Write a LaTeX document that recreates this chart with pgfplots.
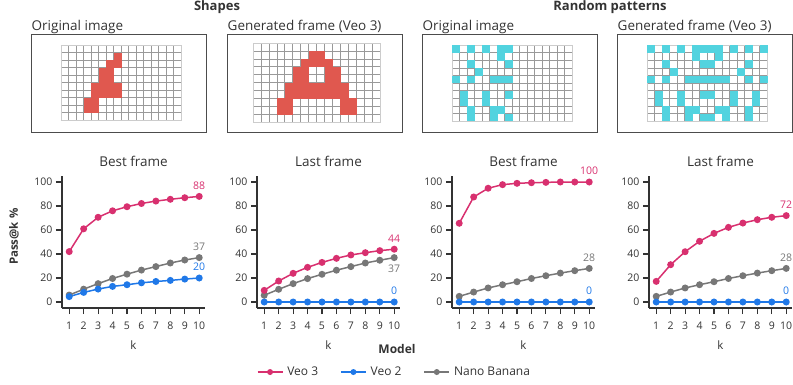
\documentclass[border=0pt]{standalone}
\usepackage{fontspec}
\setmainfont{Open Sans}
\usepackage{pgfplots}
\usepackage{pgfplotstable}
\pgfplotsset{compat=1.18}

\definecolor{veothree}{HTML}{D8306F}
\definecolor{veotwo}{HTML}{1F78E8}
\definecolor{nano}{HTML}{777777}
\definecolor{shapered}{HTML}{E0584F}
\definecolor{patcyan}{HTML}{52D3DF}
\definecolor{ink}{HTML}{333333}

\newcommand{\tickfont}{\fontsize{10.5pt}{12pt}\selectfont}
\newcommand{\labfont}{\fontsize{11.5pt}{13pt}\selectfont}
\newcommand{\legfont}{\fontsize{12pt}{14pt}\selectfont}
\newcommand{\titfont}{\fontsize{13.5pt}{15pt}\selectfont}

% pass@k per panel
\pgfplotstableread{
k  veo3  veo2  nano
1  42    4.5   5.8
2  61    8     10.7
3  70.6  10.8  15.3
4  76    13    19.6
5  79.4  14.4  23.2
6  82.1  16    26.6
7  84.1  17.1  29.5
8  85.6  18    32.5
9  86.9  19.1  35
10 88    20    37
}\shapesbest
\pgfplotstableread{
k  veo3  veo2  nano
1  9.7   0     5.6
2  17.5  0     10.6
3  23.9  0     15.3
4  28.9  0     19.5
5  33    0     23.1
6  36.4  0     26.5
7  39.2  0     29.5
8  41.1  0     32.5
9  42.8  0     34.8
10 44    0     37
}\shapeslast
\pgfplotstableread{
k  veo3  veo2  nano
1  65.6  0     4.7
2  87.5  0     8.3
3  94.8  0     11.7
4  97.8  0     14.4
5  98.9  0     16.9
6  99.4  0     19.6
7  99.7  0     21.9
8  100   0     24.1
9  100   0     26.1
10 100   0     28
}\randbest
\pgfplotstableread{
k  veo3  veo2  nano
1  17.2  0     4.7
2  31.1  0     8.3
3  41.9  0     11.7
4  50.6  0     14.4
5  57.2  0     16.9
6  62.2  0     19.6
7  65.8  0     21.9
8  68.6  0     24.1
9  70.6  0     26.1
10 72    0     28
}\randlast

\pgfplotsset{
  panel/.style={
    scale only axis, width=143pt, height=132pt, anchor=south west,
    xmin=0.5, xmax=10.4, ymin=-5, ymax=105,
    axis lines=left, axis line style={-, line width=1.4pt, draw=ink},
    xtick={1,...,10}, ytick={0,20,...,100},
    tick align=outside, major tick length=6pt,
    tick style={line width=1.2pt, draw=ink},
    tick label style={font=\tickfont, text=ink},
    xticklabel style={yshift=-4pt},
    /pgf/number format/assume math mode=true,
    xlabel={k}, xlabel style={font=\labfont, text=ink, yshift=-5pt},
    title style={font=\titfont, text=ink, at={(0.5,1)}, anchor=base, yshift=4pt},
    clip=false},
  frame/.style={
    scale only axis, anchor=center, width=175pt, height=98pt,
    xmin=0, xmax=1, ymin=0, ymax=1, ticks=none,
    axis line style={line width=1pt, draw=black!70},
    title style={font=\titfont, text=ink, at={(0,1)}, anchor=base west,
      inner sep=0pt, yshift=-2pt}},
  gridimg/.style={
    scale only axis, anchor=center,
    xmin=0, xmax=16, ymin=0, ymax=10, y dir=reverse,
    xtick={0,...,16}, ytick={0,...,10}, xticklabels={}, yticklabels={},
    major tick length=0pt, grid=major,
    grid style={black!40, line width=0.6pt},
    axis line style={black!20, line width=0.5pt}},
  cell/.style 2 args={only marks, color=#1, mark=square*, mark size=#2,
    mark options={fill=#1, draw=none}},
  lv3/.style={veothree, line width=1.5pt, mark=*, mark size=2.7pt, forget plot},
  lv2/.style={veotwo, line width=1.5pt, mark=*, mark size=2.7pt, forget plot},
  lnb/.style={nano, line width=1.5pt, mark=*, mark size=2.7pt, forget plot},
  endlab/.style n args={3}{draw=none, mark=none, forget plot, nodes near coords,
    point meta=explicit symbolic,
    every node near coord/.append style={font=\tickfont, text=#1,
      anchor=#2, inner sep=2pt, yshift=#3}},
}

\begin{document}
\begin{tikzpicture}
\path[use as bounding box] (0pt,0pt) rectangle (793pt,-384pt);

% headers
\node[font=\fontsize{13pt}{15pt}\selectfont\bfseries, text=ink] at (217pt,-7.5pt) {Shapes};
\node[font=\fontsize{13pt}{15pt}\selectfont\bfseries, text=ink] at (610pt,-7.5pt) {Random patterns};

% image frames
\begin{axis}[frame, at={(119pt,-83pt)}, title={Original image}]\end{axis}
\begin{axis}[frame, at={(315pt,-83pt)}, title={Generated frame (Veo 3)}]\end{axis}
\begin{axis}[frame, at={(510pt,-83pt)}, title={Original image}]\end{axis}
\begin{axis}[frame, at={(705pt,-83pt)}, title={Generated frame (Veo 3)}]\end{axis}

% shapes: original
\begin{axis}[gridimg, at={(121pt,-82.5pt)}, width=120pt, height=75pt]
\addplot[cell={shapered}{3.45pt}] coordinates {
 (7.5,1.5) (6.5,2.5) (7.5,2.5) (5.5,3.5) (6.5,3.5) (5.5,4.5) (6.5,4.5)
 (4.5,5.5) (5.5,5.5) (6.5,5.5) (7.5,5.5) (4.5,6.5) (5.5,6.5) (6.5,6.5) (7.5,6.5)
 (3.5,7.5) (4.5,7.5) (3.5,8.5) (4.5,8.5)};
\end{axis}
% shapes: generated
\begin{axis}[gridimg, at={(316.5pt,-82.5pt)}, width=127pt, height=79pt]
\addplot[cell={shapered}{3.65pt}] coordinates {
 (7.5,1.5) (8.5,1.5)
 (6.5,2.5) (7.5,2.5) (8.5,2.5) (9.5,2.5)
 (5.5,3.5) (6.5,3.5) (9.5,3.5) (10.5,3.5)
 (5.5,4.5) (6.5,4.5) (9.5,4.5) (10.5,4.5)
 (4.5,5.5) (5.5,5.5) (6.5,5.5) (7.5,5.5) (8.5,5.5) (9.5,5.5) (10.5,5.5) (11.5,5.5)
 (4.5,6.5) (5.5,6.5) (6.5,6.5) (7.5,6.5) (8.5,6.5) (9.5,6.5) (10.5,6.5) (11.5,6.5)
 (3.5,7.5) (4.5,7.5) (11.5,7.5) (12.5,7.5)
 (3.5,8.5) (4.5,8.5) (11.5,8.5) (12.5,8.5)};
\end{axis}
% random: original
\begin{axis}[gridimg, at={(512pt,-83pt)}, width=120pt, height=76pt]
\addplot[cell={patcyan}{3.47pt}] coordinates {
 (0.5,0.5) (2.5,0.5) (4.5,0.5) (6.5,0.5) (7.5,0.5)
 (6.5,1.5)
 (2.5,2.5) (7.5,2.5)
 (3.5,3.5)
 (0.5,4.5) (2.5,4.5) (5.5,4.5) (6.5,4.5) (7.5,4.5)
 (1.5,6.5) (4.5,6.5) (7.5,6.5)
 (1.5,7.5) (4.5,7.5)
 (2.5,8.5) (5.5,8.5) (6.5,8.5)
 (2.5,9.5) (5.5,9.5) (7.5,9.5)};
\end{axis}
% random: generated
\begin{axis}[gridimg, at={(707pt,-83pt)}, width=120pt, height=76pt]
\addplot[cell={patcyan}{3.47pt}] coordinates {
 (0.5,0.5) (2.5,0.5) (4.5,0.5) (6.5,0.5) (7.5,0.5) (8.5,0.5) (9.5,0.5) (11.5,0.5) (13.5,0.5) (15.5,0.5)
 (6.5,1.5) (9.5,1.5)
 (2.5,2.5) (7.5,2.5) (8.5,2.5) (13.5,2.5)
 (3.5,3.5) (12.5,3.5)
 (0.5,4.5) (2.5,4.5) (5.5,4.5) (6.5,4.5) (7.5,4.5) (8.5,4.5) (9.5,4.5) (10.5,4.5) (13.5,4.5) (15.5,4.5)
 (1.5,6.5) (4.5,6.5) (7.5,6.5) (8.5,6.5) (11.5,6.5) (14.5,6.5)
 (1.5,7.5) (4.5,7.5) (11.5,7.5) (14.5,7.5)
 (2.5,8.5) (5.5,8.5) (6.5,8.5) (9.5,8.5) (10.5,8.5) (13.5,8.5)
 (2.5,9.5) (5.5,9.5) (7.5,9.5) (8.5,9.5) (10.5,9.5) (13.5,9.5)};
\end{axis}

% panel 1
\begin{axis}[panel, at={(62pt,-308pt)}, title={Best frame},
  ylabel={\bfseries Pass@k \%},
  ylabel style={font=\labfont, text=ink, at={(axis description cs:-0.336,0.54)}, anchor=center}]
\addplot[lnb] table[x=k,y=nano] {\shapesbest};
\addplot[lv2] table[x=k,y=veo2] {\shapesbest};
\addplot[lv3] table[x=k,y=veo3] {\shapesbest};
\addplot[endlab={veothree}{south}{5pt}] coordinates {(10,88) [88]};
\addplot[endlab={nano}{south}{5pt}] coordinates {(10,37) [37]};
\addplot[endlab={veotwo}{south}{5pt}] coordinates {(10,20) [20]};
\end{axis}

% panel 2
\begin{axis}[panel, at={(257pt,-308pt)}, title={Last frame},
  legend columns=3,
  legend style={at={(axis description cs:0.968,-0.485)}, anchor=center,
    draw=none, fill=none, font=\legfont, text=ink,
    nodes={inner xsep=4pt},
    /tikz/every even column/.append style={column sep=18pt}},
  legend image code/.code={\draw[mark repeat=2, mark phase=2, mark size=2.2pt]
    plot coordinates {(0pt,0pt) (12.5pt,0pt) (25pt,0pt)};}]
\addlegendimage{veothree, line width=1.5pt, mark=*}
\addlegendentry{\legfont Veo 3}
\addlegendimage{veotwo, line width=1.5pt, mark=*}
\addlegendentry{\legfont Veo 2}
\addlegendimage{nano, line width=1.5pt, mark=*}
\addlegendentry{\legfont Nano Banana}
\addplot[lnb] table[x=k,y=nano] {\shapeslast};
\addplot[lv2] table[x=k,y=veo2] {\shapeslast};
\addplot[lv3] table[x=k,y=veo3] {\shapeslast};
\addplot[endlab={veothree}{south}{5pt}] coordinates {(10,44) [44]};
\addplot[endlab={nano}{north}{-5pt}] coordinates {(10,37) [37]};
\addplot[endlab={veotwo}{south}{5pt}] coordinates {(10,0) [0]};
\node[font=\legfont\bfseries, text=ink] at (axis description cs:0.979,-0.31) {Model};
\end{axis}

% panel 3
\begin{axis}[panel, at={(452pt,-308pt)}, title={Best frame}]
\addplot[lnb] table[x=k,y=nano] {\randbest};
\addplot[lv2] table[x=k,y=veo2] {\randbest};
\addplot[lv3] table[x=k,y=veo3] {\randbest};
\addplot[endlab={veothree}{south}{5pt}] coordinates {(10,100) [100]};
\addplot[endlab={nano}{south}{5pt}] coordinates {(10,28) [28]};
\addplot[endlab={veotwo}{south}{5pt}] coordinates {(10,0) [0]};
\end{axis}

% panel 4
\begin{axis}[panel, at={(649pt,-308pt)}, title={Last frame}]
\addplot[lnb] table[x=k,y=nano] {\randlast};
\addplot[lv2] table[x=k,y=veo2] {\randlast};
\addplot[lv3] table[x=k,y=veo3] {\randlast};
\addplot[endlab={veothree}{south}{5pt}] coordinates {(10,72) [72]};
\addplot[endlab={nano}{south}{5pt}] coordinates {(10,28) [28]};
\addplot[endlab={veotwo}{south}{5pt}] coordinates {(10,0) [0]};
\end{axis}
\end{tikzpicture}
\end{document}
